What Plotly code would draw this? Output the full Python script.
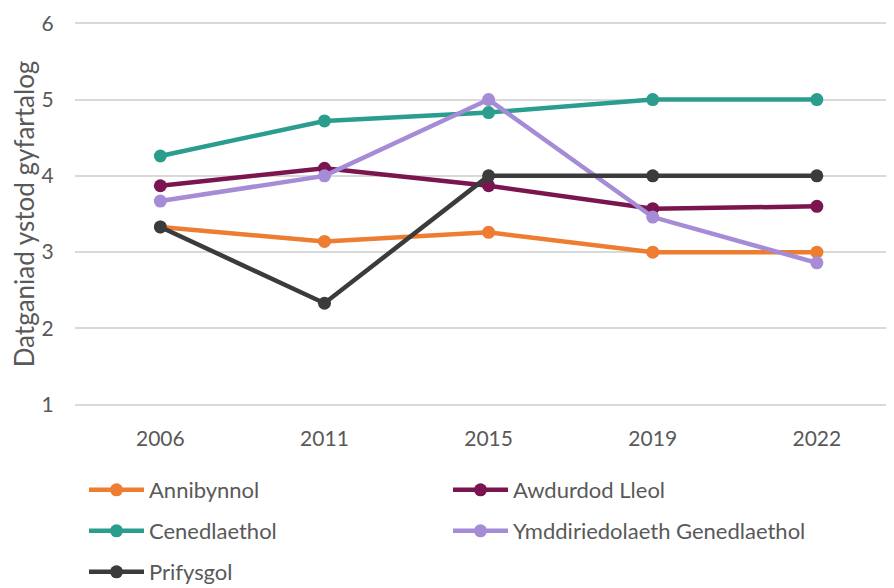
import plotly.graph_objects as go

years = ["2006", "2011", "2015", "2019", "2022"]

annibynnol = [3.33, 3.14, 3.26, 3.0, 3.0]
awdurdod_lleol = [3.87, 4.1, 3.87, 3.57, 3.6]
cenedlaethol = [4.26, 4.72, 4.83, 5.0, 5.0]
ymddiriedolaeth = [3.67, 4.0, 5.0, 3.46, 2.86]
prifysgol = [3.33, 2.33, 4.0, 4.0, 4.0]

FONT = "Lato, 'Open Sans', sans-serif"
GREY_TEXT = "#595959"

# the page body keeps its default 8px margin, so the figure is 8px smaller
W, H = 886, 580

series = [
    ("Annibynnol", annibynnol, "#ED7D31", "legend"),
    ("Awdurdod Lleol", awdurdod_lleol, "#7A1550", "legend"),
    ("Cenedlaethol", cenedlaethol, "#2A9D8F", "legend2"),
    ("Ymddiriedolaeth Genedlaethol", ymddiriedolaeth, "#A68BD6", "legend2"),
    ("Prifysgol", prifysgol, "#3B3B3B", "legend3"),
]

fig = go.Figure()
for name, vals, color, leg in series:
    fig.add_trace(go.Scatter(
        x=years, y=vals, name=name, mode="lines+markers",
        line=dict(color=color, width=4.5),
        marker=dict(color=color, size=13),
        legend=leg,
    ))

# three one-row legends so the row spacing can match the original
legend_common = dict(
    orientation="h", xref="container", yref="container", x=76 / W, xanchor="left",
    yanchor="middle", entrywidth=294, entrywidthmode="pixels",
    itemwidth=55, font=dict(family=FONT, size=22, color=GREY_TEXT),
    bgcolor="rgba(0,0,0,0)", traceorder="normal",
)

fig.update_layout(
    width=W, height=H,
    margin=dict(l=67, r=0, t=13, b=181),
    paper_bgcolor="white", plot_bgcolor="white",
    font=dict(family=FONT, size=21, color=GREY_TEXT),
    legend=dict(legend_common, y=1 - 482 / H),
    legend2=dict(legend_common, y=1 - 523 / H),
    legend3=dict(legend_common, y=1 - 564 / H),
    xaxis=dict(
        type="category", range=[-0.52, 4.47], showgrid=False, showline=False,
        ticks="outside", ticklen=13, tickcolor="rgba(0,0,0,0)",
        tickfont=dict(size=21, color=GREY_TEXT),
    ),
    yaxis=dict(
        range=[0.97, 6.03], tickvals=[1, 2, 3, 4, 5, 6],
        showgrid=True, gridcolor="#D9D9D9", gridwidth=1.5,
        zeroline=False, showline=False,
        ticks="outside", ticklen=16, tickcolor="rgba(0,0,0,0)",
        tickfont=dict(size=21, color=GREY_TEXT),
        title=dict(text="Datganiad ystod gyfartalog", standoff=2,
                   font=dict(size=26, color=GREY_TEXT)),
    ),
)

fig.write_html("out.html")
